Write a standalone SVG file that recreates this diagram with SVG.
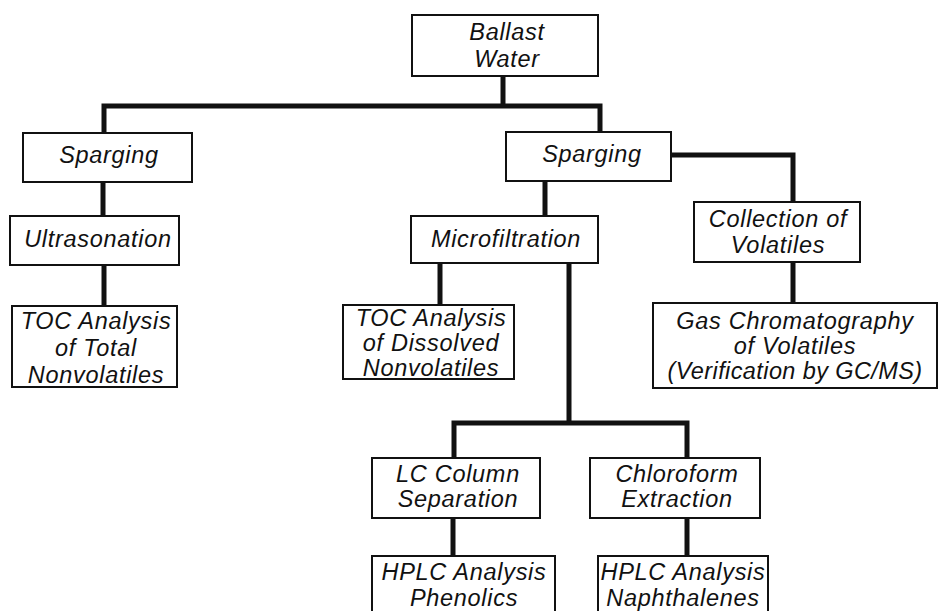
<svg xmlns="http://www.w3.org/2000/svg" width="938" height="611" viewBox="0 0 938 611">
<style>
.box{fill:#fff;stroke:#111;stroke-width:2}
.t{font-family:"Liberation Sans",Arial,sans-serif;font-style:italic;font-size:23.5px;fill:#111;text-anchor:middle;letter-spacing:0.7px}
.c{fill:none;stroke:#111;stroke-width:5;stroke-linejoin:miter;stroke-linecap:butt}
</style>
<rect width="938" height="611" fill="#fff"/>
<g id="connectors">
<path class="c" d="M503,76 V106"/>
<path class="c" d="M104,133 V106 H600 V132"/>
<path class="c" d="M103,182 V216"/>
<path class="c" d="M104,265 V306"/>
<path class="c" d="M545,181 V216"/>
<path class="c" d="M440,263 V305"/>
<path class="c" d="M569,263 V423"/>
<path class="c" d="M454,458 V423 H687 V458"/>
<path class="c" d="M671,155 H793 V202"/>
<path class="c" d="M793,262 V303"/>
<path class="c" d="M453,518 V556"/>
<path class="c" d="M687,518 V556"/>
</g>
<g id="ballast">
<rect class="box" x="412" y="15" width="186" height="61"/>
<text class="t" x="507" y="40">Ballast</text>
<text class="t" x="507" y="67">Water</text>
</g>
<g id="sparging1">
<rect class="box" x="23" y="133" width="169" height="49"/>
<text class="t" x="109" y="163">Sparging</text>
</g>
<g id="ultrasonation">
<rect class="box" x="10" y="216" width="169" height="49"/>
<text class="t" x="98" y="247">Ultrasonation</text>
</g>
<g id="toc-total">
<rect class="box" x="12" y="306" width="165" height="81"/>
<text class="t" x="96" y="329">TOC Analysis</text>
<text class="t" x="96" y="356">of Total</text>
<text class="t" x="96" y="383">Nonvolatiles</text>
</g>
<g id="sparging2">
<rect class="box" x="506" y="132" width="165" height="49"/>
<text class="t" x="592" y="162">Sparging</text>
</g>
<g id="microfiltration">
<rect class="box" x="411" y="216" width="187" height="47"/>
<text class="t" x="506" y="247">Microfiltration</text>
</g>
<g id="toc-dissolved">
<rect class="box" x="343" y="305" width="171" height="74"/>
<text class="t" x="431" y="326">TOC Analysis</text>
<text class="t" x="431" y="351">of Dissolved</text>
<text class="t" x="431" y="376">Nonvolatiles</text>
</g>
<g id="collection">
<rect class="box" x="694" y="202" width="166" height="60"/>
<text class="t" x="778" y="227">Collection of</text>
<text class="t" x="778" y="253">Volatiles</text>
</g>
<g id="gas">
<rect class="box" x="653" y="303" width="284" height="85"/>
<text class="t" x="795" y="329">Gas Chromatography</text>
<text class="t" x="795" y="354">of Volatiles</text>
<text class="t" x="795" y="379" style="letter-spacing:0.4px">(Verification by GC/MS)</text>
</g>
<g id="lc">
<rect class="box" x="372" y="458" width="168" height="60"/>
<text class="t" x="458" y="482">LC Column</text>
<text class="t" x="458" y="507">Separation</text>
</g>
<g id="chloroform">
<rect class="box" x="590" y="458" width="170" height="60"/>
<text class="t" x="677" y="482">Chloroform</text>
<text class="t" x="677" y="507">Extraction</text>
</g>
<g id="hplc-phenolics">
<rect class="box" x="372" y="556" width="183" height="62"/>
<text class="t" x="464" y="580">HPLC Analysis</text>
<text class="t" x="464" y="606">Phenolics</text>
</g>
<g id="hplc-naphthalenes">
<rect class="box" x="598" y="556" width="170" height="62"/>
<text class="t" x="683" y="580">HPLC Analysis</text>
<text class="t" x="683" y="606">Naphthalenes</text>
</g>
</svg>
